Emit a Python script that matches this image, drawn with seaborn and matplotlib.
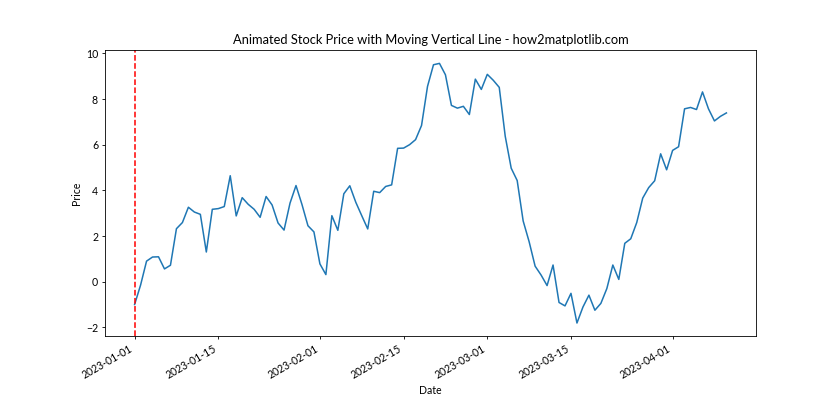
import matplotlib
matplotlib.use("Agg")
import matplotlib.pyplot as plt
import matplotlib.dates as mdates
import numpy as np
import pandas as pd
import seaborn as sns

plt.rcParams['font.family'] = ['Lato', 'DejaVu Sans']
plt.rcParams['xtick.labelsize'] = 7.6
plt.rcParams['ytick.labelsize'] = 7.6
plt.rcParams['axes.labelsize'] = 7.6
plt.rcParams['axes.titlesize'] = 9.3
plt.rcParams['axes.linewidth'] = 0.6
plt.rcParams['xtick.major.size'] = 2.5
plt.rcParams['ytick.major.size'] = 2.5
plt.rcParams['xtick.major.width'] = 0.6
plt.rcParams['ytick.major.width'] = 0.6
plt.rcParams['xtick.major.pad'] = 2.5
plt.rcParams['ytick.major.pad'] = 2.5

start_date = "2023-01-01"
n_days = 100
prices = [
    -1.00, -0.15, 0.90, 1.08, 1.09, 0.56, 0.72, 2.32, 2.59, 3.26,
    3.05, 2.95, 1.30, 3.17, 3.20, 3.29, 4.64, 2.88, 3.68, 3.39,
    3.17, 2.82, 3.73, 3.36, 2.57, 2.26, 3.44, 4.21, 3.38, 2.45,
    2.18, 0.78, 0.31, 2.89, 2.25, 3.85, 4.20, 3.48, 2.89, 2.31,
    3.96, 3.90, 4.17, 4.24, 5.84, 5.85, 6.00, 6.22, 6.84, 8.55,
    9.50, 9.56, 9.06, 7.72, 7.60, 7.68, 7.32, 8.87, 8.42, 9.08,
    8.82, 8.51, 6.37, 4.97, 4.43, 2.66, 1.75, 0.68, 0.29, -0.17,
    0.73, -0.91, -1.06, -0.51, -1.81, -1.11, -0.59, -1.25, -0.95, -0.30,
    0.73, 0.10, 1.68, 1.88, 2.59, 3.66, 4.12, 4.42, 5.60, 4.90,
    5.75, 5.91, 7.57, 7.63, 7.54, 8.31, 7.57, 7.04, 7.24, 7.39,
]
title = "Animated Stock Price with Moving Vertical Line - how2matplotlib.com"

dates = pd.date_range(start_date, periods=n_days)
df = pd.DataFrame({"Date": dates, "Price": prices})

fig, ax = plt.subplots(figsize=(8.4, 4.2), dpi=100)
sns.lineplot(data=df, x="Date", y="Price", ax=ax, color="#1f77b4", linewidth=1.1)
ax.axvline(dates[0], color="red", linestyle="--", linewidth=1.1)
ax.set_title(title, pad=4.5)
ax.set_xlabel("Date", labelpad=3)
ax.set_ylabel("Price", labelpad=3)
ax.xaxis.set_major_locator(mdates.DayLocator(bymonthday=[1, 15]))
ax.xaxis.set_major_formatter(mdates.DateFormatter("%Y-%m-%d"))
fig.autofmt_xdate()
fig.savefig("out.png", dpi=100)
